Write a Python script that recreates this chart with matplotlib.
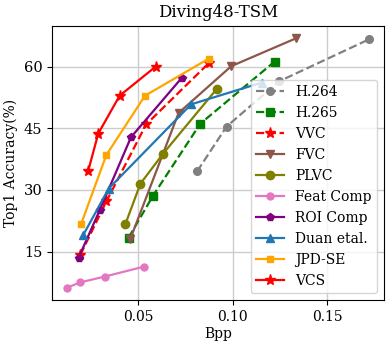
import matplotlib
matplotlib.use("Agg")
import matplotlib.pyplot as plt

plt.rcParams['font.family'] = ['DejaVu Serif']

h264_x = [0.0811, 0.0967, 0.1245, 0.1720]
h264_y = [34.5, 45.4, 56.4, 66.6]
h265_x = [0.0449, 0.0578, 0.0828, 0.1221]
h265_y = [18.4, 28.6, 46.1, 61.2]
vvc_x = [0.0193, 0.0331, 0.0541, 0.0872]
vvc_y = [14.2, 27.2, 45.9, 60.8]
fvc_x = [0.0458, 0.0713, 0.0992, 0.1336]
fvc_y = [18.1, 48.7, 60.1, 66.9]
plvc_x = [0.0431, 0.0511, 0.0631, 0.0916]
plvc_y = [21.6, 31.5, 38.8, 54.6]
feat_x = [0.0123, 0.0193, 0.0322, 0.0528]
feat_y = [6.2, 7.5, 8.9, 11.3]
roi_x = [0.0184, 0.0297, 0.0461, 0.0729]
roi_y = [13.5, 25.2, 42.8, 57.2]
duan_x = [0.0207, 0.0343, 0.0779, 0.1154]
duan_y = [18.9, 30.3, 50.8, 56.1]
jpd_x = [0.0198, 0.0331, 0.0535, 0.0872]
jpd_y = [21.8, 38.5, 52.9, 61.9]
vcs_x = [0.0234, 0.0288, 0.0401, 0.0592]
vcs_y = [34.5, 43.7, 52.9, 60.0]

fig = plt.figure(figsize=(3.91, 3.45), dpi=100)
ax = fig.add_axes([0.133, 0.130, 0.849, 0.7955])

lw = 1.6
ax.plot(h264_x, h264_y, '--o', color='gray', lw=lw, ms=5.5, label='H.264')
ax.plot(h265_x, h265_y, '--s', color='green', lw=lw, ms=5.5, label='H.265')
ax.plot(vvc_x, vvc_y, '--*', color='red', lw=lw, ms=8, label='VVC')
ax.plot(fvc_x, fvc_y, '-v', color='tab:brown', lw=lw, ms=6, label='FVC')
ax.plot(plvc_x, plvc_y, '-o', color='olive', lw=lw, ms=6, label='PLVC')
ax.plot(feat_x, feat_y, '-o', color='tab:pink', lw=lw, ms=5, label='Feat Comp')
ax.plot(roi_x, roi_y, '-p', color='purple', lw=lw, ms=5.5, label='ROI Comp')
ax.plot(duan_x, duan_y, '-^', color='tab:blue', lw=lw, ms=6, label='Duan etal.')
ax.plot(jpd_x, jpd_y, '-s', color='orange', lw=lw, ms=4.5, label='JPD-SE')
ax.plot(vcs_x, vcs_y, '-*', color='red', lw=lw, ms=8, label='VCS')

ax.set_xticks([0.05, 0.10, 0.15])
ax.set_xticklabels(['0.05', '0.10', '0.15'])
ax.set_yticks([15, 30, 45, 60])
ax.tick_params(axis='x', labelsize=10)
ax.tick_params(axis='y', labelsize=10.5)
ax.grid(True, color='#cccccc', lw=1)
ax.set_axisbelow(True)
ax.set_xlabel('Bpp', fontsize=10, labelpad=2)
ax.set_ylabel('Top1 Accuracy(%)', fontsize=10, labelpad=4)
ax.set_title('Diving48-TSM', fontsize=12)
ax.legend(loc='lower right', fontsize=10)

fig.savefig('out.png', dpi=100)
